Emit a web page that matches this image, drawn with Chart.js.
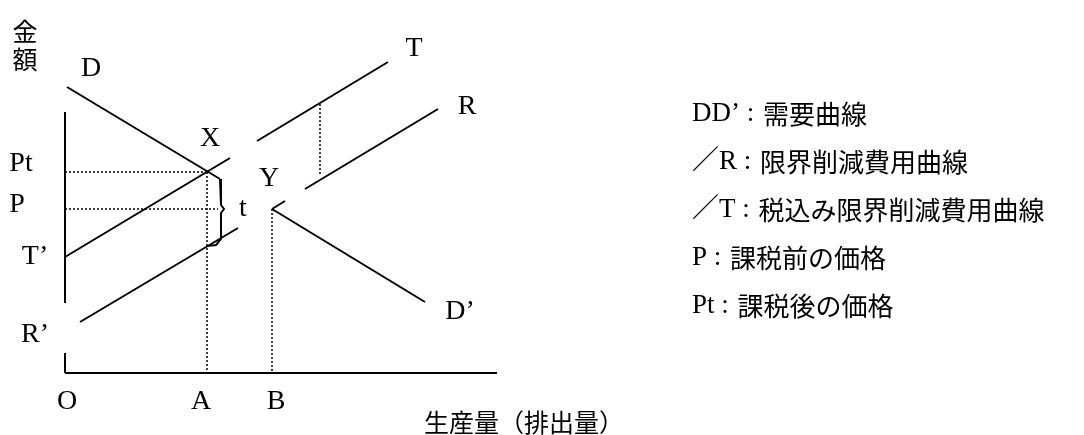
<!DOCTYPE html>
<html lang="ja">
<head>
<meta charset="utf-8">
<title>課税と限界削減費用</title>
<script src="https://cdn.jsdelivr.net/npm/chart.js@4.4.1/dist/chart.umd.min.js"></script>
<style>
  html, body { margin: 0; padding: 0; background: #fff; }
  #wrap { width: 1084px; height: 435px; }
</style>
</head>
<body>
<div id="wrap"><canvas id="tax-chart" width="1084" height="435"></canvas></div>
<script>
// --- data (x = 生産量, y = 金額; origin O) ---
const demandUpper = [[2, 286], [155, 194]];          // D -> X
const demandLower = [[207, 164], [360, 71]];         // Y -> D'
const taxedLeft   = [[0, 116], [165, 215]];          // T' ...
const taxedRight  = [[192, 232], [323, 311]];        // ... T
const costLeft    = [[15, 51], [173, 145]];          // R' ...
const costMid     = [[207, 164], [220, 172]];
const costRight   = [[240, 184], [373, 264]];        // ... R
const yAxisUpper  = [[0, 261], [0, 70]];
const yAxisLower  = [[0, 20], [0, 0]];
const xAxisLine   = [[0, 0], [432, 0]];
const ptGuide     = [[0, 201], [142, 201]];
const aGuide      = [[142, 201], [142, 0]];
const pGuide      = [[0, 164], [153, 164]];
const bGuide      = [[207, 164], [207, 0]];
const taxGap      = [[255, 269], [255, 197]];
const taxBrace    = [[155, 194], [156, 190], [156, 168], [159, 164], [156, 160], [156, 134], [151, 128], [142, 127]];

// labels placed in the same data space
const pointLabels = [
  ['D', 26, 304], ['X', 145, 234], ['Y', 204, 194], ['t', 178, 164],
  ['T', 349, 324], ['R', 402, 266], ['D’', 395, 61],
  ['Pt', -44, 209], ['P', -48, 168], ['T’', -30, 116], ['R’', -30, 38],
  ['O', 2, -29], ['A', 136, -29], ['B', 211, -29]
];
const yTitle = ['金', '額'];
const xTitle = '生産量（排出量）';
const legendLines = [
  ['DD’ : ', '需要曲線'],
  ['／R : ', '限界削減費用曲線'],
  ['／T : ', '税込み限界削減費用曲線'],
  ['P : ', '課税前の価格'],
  ['Pt : ', '課税後の価格']
];

const toXY = arr => arr.map(p => ({ x: p[0], y: p[1] }));
const solid = (arr, w) => ({ data: toXY(arr), showLine: true, borderColor: '#000', borderWidth: w || 2, pointRadius: 0, fill: false });
const dotted = arr => ({ data: toXY(arr), showLine: true, borderColor: '#000', borderWidth: 1.5, borderDash: [2, 2], pointRadius: 0, fill: false });

const serif = "'Liberation Serif', 'Noto Sans CJK JP', serif";
const cjk = "'Noto Sans CJK JP', sans-serif";

const labelPlugin = {
  id: 'labels',
  afterDatasetsDraw(chart) {
    const { ctx, scales: { x, y } } = chart;
    ctx.save();
    ctx.fillStyle = '#000';
    ctx.textAlign = 'center';
    ctx.textBaseline = 'middle';
    ctx.font = '28px ' + serif;
    pointLabels.forEach(([t, vx, vy]) => ctx.fillText(t, x.getPixelForValue(vx), y.getPixelForValue(vy)));

    // 金額 (vertical)
    ctx.font = '25px ' + cjk;
    ctx.fillText(yTitle[0], x.getPixelForValue(-40), y.getPixelForValue(342));
    ctx.fillText(yTitle[1], x.getPixelForValue(-40), y.getPixelForValue(314));
    // 生産量（排出量）
    ctx.fillText(xTitle, x.getPixelForValue(459), y.getPixelForValue(-49));

    // legend text on the right: latin prefix then japanese description
    ctx.textAlign = 'left';
    legendLines.forEach(([head, body], i) => {
      const ly = 114 + i * 48;
      ctx.font = '27px ' + serif;
      ctx.fillText(head, 692, ly);
      const w = ctx.measureText(head).width;
      ctx.font = '26px ' + cjk;
      ctx.fillText(body, 694 + w, ly);
    });
    ctx.restore();
  }
};

new Chart(document.getElementById('tax-chart'), {
  type: 'scatter',
  data: {
    datasets: [
      solid(demandUpper), solid(demandLower),
      solid(taxedLeft), solid(taxedRight),
      solid(costLeft), solid(costMid), solid(costRight),
      solid(yAxisUpper), solid(yAxisLower), solid(xAxisLine),
      dotted(ptGuide), dotted(aGuide), dotted(pGuide), dotted(bGuide), dotted(taxGap),
      solid(taxBrace)
    ]
  },
  options: {
    responsive: false,
    animation: false,
    layout: { padding: 0 },
    scales: {
      x: { type: 'linear', display: false, min: -65, max: 1019 },
      y: { type: 'linear', display: false, min: -62, max: 373 }
    },
    plugins: { legend: { display: false }, tooltip: { enabled: false } }
  },
  plugins: [labelPlugin]
});
</script>
</body>
</html>
